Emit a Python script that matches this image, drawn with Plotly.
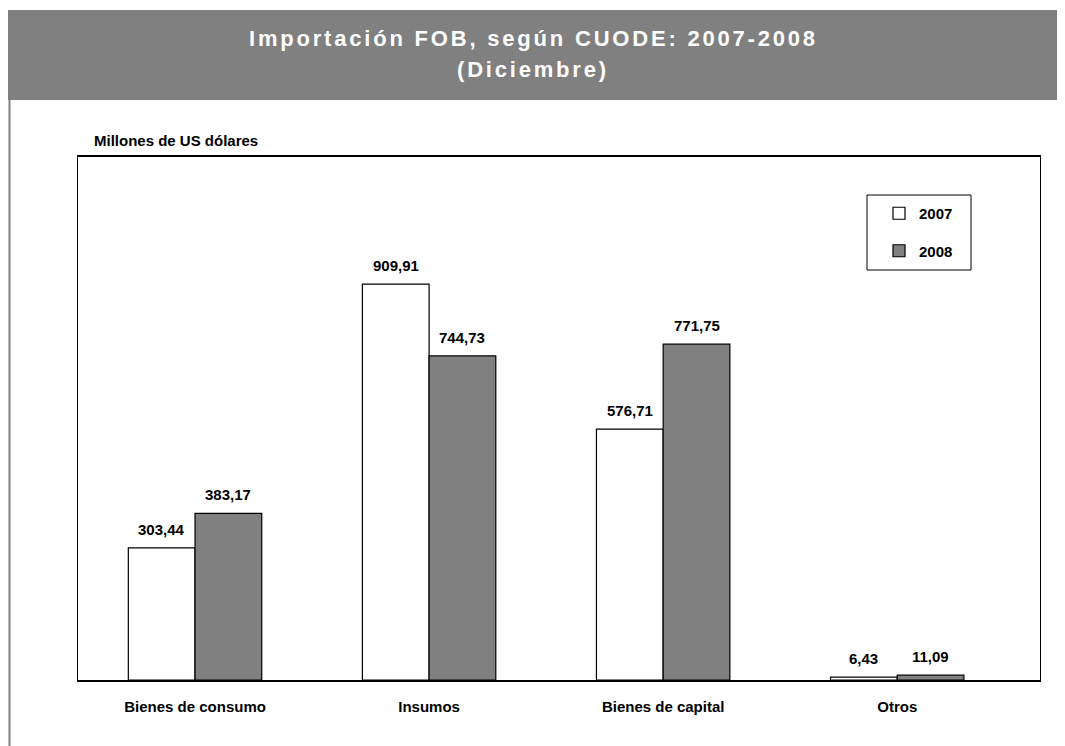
import plotly.graph_objects as go

categories = ["Bienes de consumo", "Insumos", "Bienes de capital", "Otros"]
values_2007 = [303.44, 909.91, 576.71, 6.43]
values_2008 = [383.17, 744.73, 771.75, 11.09]
series_names = ["2007", "2008"]

def fmt(v):
    return f"{v:.2f}".replace(".", ",")

FONT = "Liberation Sans Narrow, Arial Narrow, Liberation Sans, Arial, sans-serif"
TFONT = "Liberation Sans, Arial, sans-serif"

# the page puts the figure 8px in from the top-left corner
OFF = 8
W, H = 1065 - OFF, 746 - OFF
# plot area in reference-image pixels
L, R, T, B = 78, 1040, 157, 680
pw, ph = R - L, B - T

def px(x):
    return (x - L) / pw

def py(y):
    return (B - y) / ph

bar_w_px = pw / 4.11 * (1 - 0.43) / 2

fig = go.Figure()
fig.add_trace(go.Bar(
    x=categories, y=values_2007, name=series_names[0],
    marker=dict(color="white", line=dict(color="black", width=1.2)),
    legendgroup="a",
))
fig.add_trace(go.Bar(
    x=categories, y=values_2008, name=series_names[1],
    marker=dict(color="#808080", line=dict(color="black", width=1.2)),
    legendgroup="b",
))

annotations = []
for vals, sign in ((values_2007, -1), (values_2008, 1)):
    for c, v in zip(categories, vals):
        annotations.append(dict(
            x=c, y=v, xref="x", yref="y", showarrow=False,
            xanchor="center", yanchor="bottom",
            xshift=sign * bar_w_px / 2, yshift=8,
            text=fmt(v),
            font=dict(family=FONT, size=15, color="black", weight="bold"),
        ))

annotations += [
    dict(xref="paper", yref="paper", x=px(533), y=py(38),
         xanchor="center", yanchor="middle", showarrow=False,
         text='<span style="letter-spacing:2.8px">Importación FOB, según CUODE: 2007-2008</span>',
         font=dict(family=TFONT, size=22, color="white", weight="bold")),
    dict(xref="paper", yref="paper", x=px(533), y=py(70),
         xanchor="center", yanchor="middle", showarrow=False,
         text='<span style="letter-spacing:2.8px">(Diciembre)</span>',
         font=dict(family=TFONT, size=22, color="white", weight="bold")),
    dict(xref="paper", yref="paper", x=px(92), y=py(140),
         xanchor="left", yanchor="middle", showarrow=False,
         text="Millones de US dólares",
         font=dict(family=FONT, size=15, color="black", weight="bold")),
]

fig.update_layout(
    width=W, height=H,
    margin=dict(l=L - OFF, r=1065 - R, t=T - OFF, b=746 - B, pad=0),
    paper_bgcolor="white", plot_bgcolor="white",
    barmode="group", bargap=0.43, bargroupgap=0,
    font=dict(family=FONT, size=15, color="black"),
    showlegend=True,
    legend=dict(
        x=px(879), y=py(197), xanchor="left", yanchor="top",
        borderwidth=0, bgcolor="rgba(0,0,0,0)",
        font=dict(family=FONT, size=15, color="black", weight="bold"),
        tracegroupgap=15, itemwidth=30,
    ),
    xaxis=dict(
        range=[-0.5, 3.61], showgrid=False, ticks="", showline=True,
        linecolor="black", linewidth=1.5, mirror=True,
        tickfont=dict(family=FONT, size=15, color="black", weight="bold"),
        ticklabelstandoff=12,
    ),
    yaxis=dict(
        range=[0, 1202], showgrid=False, showticklabels=False, ticks="",
        showline=True, linecolor="black", linewidth=1.2, mirror=True,
        zeroline=False,
    ),
    shapes=[
        dict(type="rect", xref="paper", yref="paper",
             x0=px(4), x1=px(1065), y0=py(100), y1=py(10),
             fillcolor="#808080", line=dict(width=0), layer="below"),
        dict(type="line", xref="paper", yref="paper",
             x0=px(9.5), x1=px(9.5), y0=py(100), y1=py(746),
             line=dict(color="#808080", width=2)),
        dict(type="rect", xref="paper", yref="paper",
             x0=px(867), x1=px(971), y0=py(270), y1=py(195),
             fillcolor="white", line=dict(color="black", width=1), layer="below"),
    ],
    annotations=annotations,
)

fig.write_html("out.html")
